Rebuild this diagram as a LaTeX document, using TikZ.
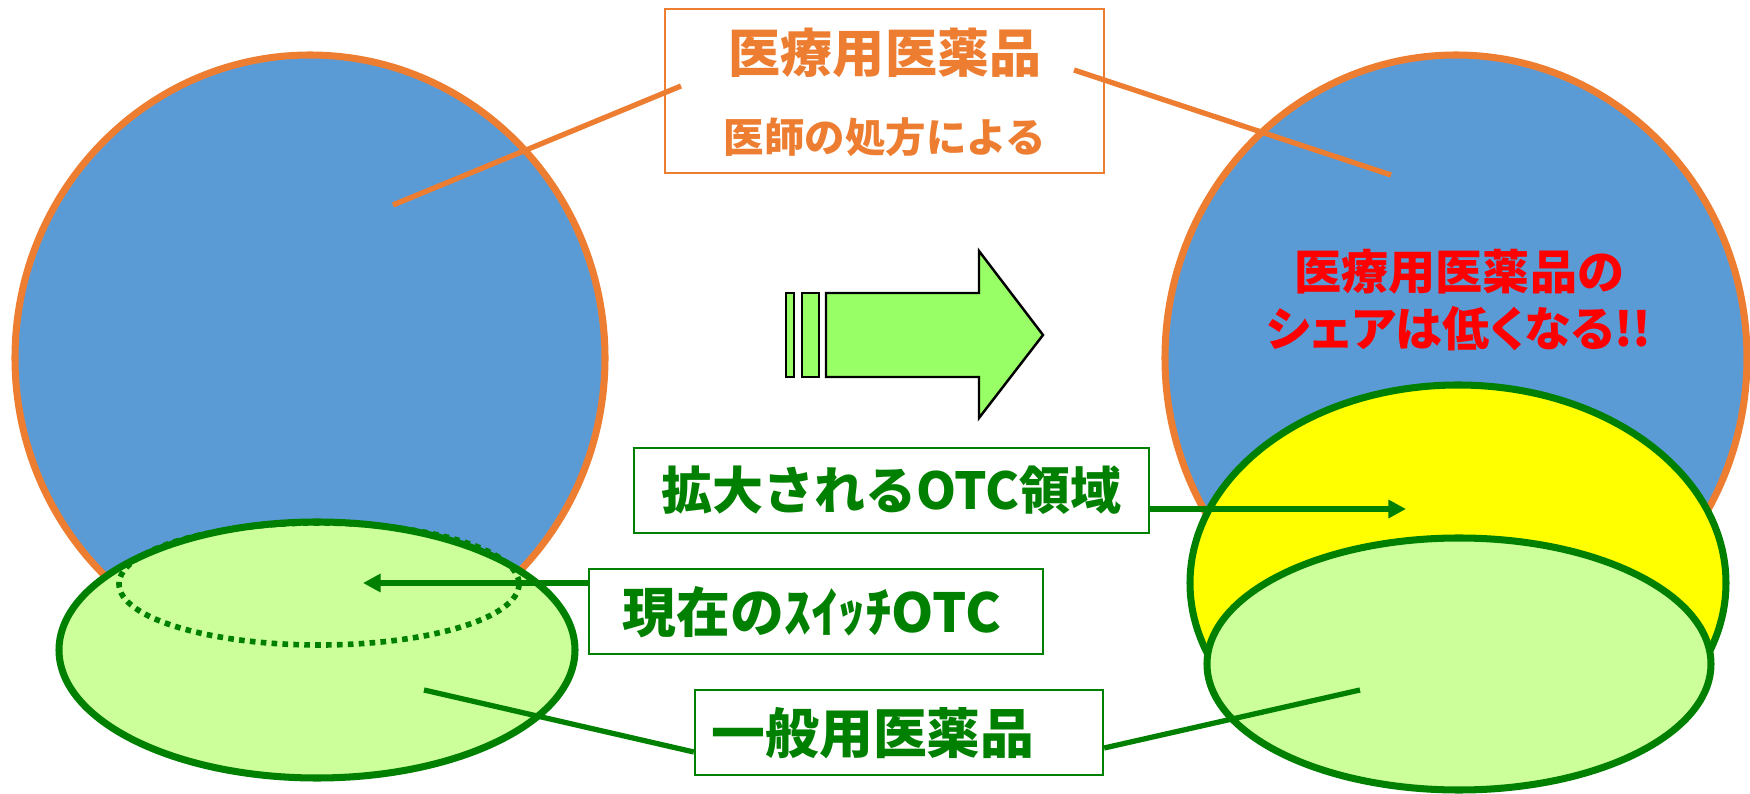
\documentclass[tikz,border=0pt]{standalone}
\usepackage{fontspec}
\newfontfamily\jp{Noto Sans CJK JP}
\newfontfamily\jpp{Noto Sans CJK JP}[RawFeature=+palt]
\definecolor{rxblue}{RGB}{91,155,213}
\definecolor{rxorange}{RGB}{237,125,49}
\definecolor{otcgreen}{RGB}{0,128,0}
\definecolor{otclight}{RGB}{204,255,153}
\definecolor{otcyellow}{RGB}{255,255,0}
\definecolor{arrowgreen}{RGB}{153,255,102}
\usetikzlibrary{arrows.meta,positioning}

\begin{document}
\begin{tikzpicture}[x=0.01cm,y=-0.01cm,
  rxdisk/.style={fill=rxblue,draw=rxorange,line width=2pt},
  otcdisk/.style={draw=otcgreen,line width=2pt},
  rxline/.style={draw=rxorange,line width=1.5pt},
  otcline/.style={draw=otcgreen,line width=1.5pt},
  otcbox/.style={draw=otcgreen,fill=white,line width=0.6pt,minimum height=0.85cm,inner sep=0pt,
    font=\jp\bfseries\fontsize{14.5pt}{16pt}\selectfont,text=otcgreen},
  otctext/.style={text=otcgreen,font=\jp\bfseries\fontsize{15.3pt}{17pt}\selectfont},
  stripe/.style={fill=arrowgreen,draw=black,line width=0.7pt}]
  \useasboundingbox (0,0) rectangle (1750,794);
  % Left: today
  \draw[rxdisk] (310,358) ellipse [x radius=295,y radius=303];
  \draw[otcdisk,fill=otclight] (317,650) ellipse [x radius=258,y radius=128];
  \draw[otcgreen,line width=1.6pt,dash pattern=on 1.6pt off 1.5pt] (319,584) ellipse [x radius=200,y radius=61];
  % Right: tomorrow
  \draw[rxdisk] (1456,358) ellipse [x radius=291,y radius=303];
  \draw[otcdisk,fill=otcyellow] (1458,583) ellipse [x radius=268,y radius=198];
  \draw[otcdisk,fill=otclight] (1459,664) ellipse [x radius=252,y radius=126];
  \node[text=red,align=center,font=\jpp\bfseries\fontsize{13.4pt}{16.2pt}\selectfont] (share) at (1459,300)
    {医療用医薬品の\\シェアは低くなる!!};
  % Striped arrow
  \foreach \a/\b in {786/794,802/819} \draw[stripe] (\a,293) rectangle (\b,377);
  \draw[stripe] (826,293) -- (979,293) -- (979,251) -- (1043,335) -- (979,418) -- (979,377) -- (826,377) -- cycle;
  % Prescription label
  \node[draw=rxorange,fill=white,line width=0.6pt,minimum width=4.39cm,minimum height=1.64cm] (rxbox) at (884.5,91) {};
  \node[text=rxorange,font=\jp\bfseries\fontsize{14.8pt}{16pt}\selectfont] (rxtitle) at (885,53) {医療用医薬品};
  \node[text=rxorange,font=\jp\bfseries\fontsize{11.5pt}{13pt}\selectfont] (rxnote) at (885,137) {医師の処方による};
  \coordinate (rxl) at (681,86);
  \coordinate (rxr) at (1074,70);
  \coordinate (rxla) at (393,205);
  \coordinate (rxra) at (1391,175);
  \draw[rxline] (rxl) -- (rxla);
  \draw[rxline] (rxr) -- (rxra);
  % OTC labels
  \node[otcbox,minimum width=5.15cm] (expand) at (891.5,490.5) {拡大されるOTC領域};
  \node[otcbox,minimum width=4.54cm] (switch) at (816,611.5) {};
  \node[otctext] (switchtext) at (812,612) {現在のｽｲｯﾁOTC};
  \node[otcbox,minimum width=4.08cm] (general) at (899,732.5) {};
  \node[otctext] (generaltext) at (873,733) {一般用医薬品};
  \coordinate (expandtip) at (1406,509);
  \coordinate (switchtip) at (363,583);
  \coordinate (genl) at (424,690);
  \coordinate (genr) at (1360,690);
  \draw[otcline,-{Triangle[length=5pt,width=5pt]}] (expand.east |- expandtip) -- (expandtip);
  \draw[otcline,-{Triangle[length=5pt,width=5pt]}] (switch.west |- switchtip) -- (switchtip);
  \draw[otcline] (general.west |- 0,752) -- (genl);
  \draw[otcline] (general.east |- 0,748) -- (genr);
\end{tikzpicture}
\end{document}
